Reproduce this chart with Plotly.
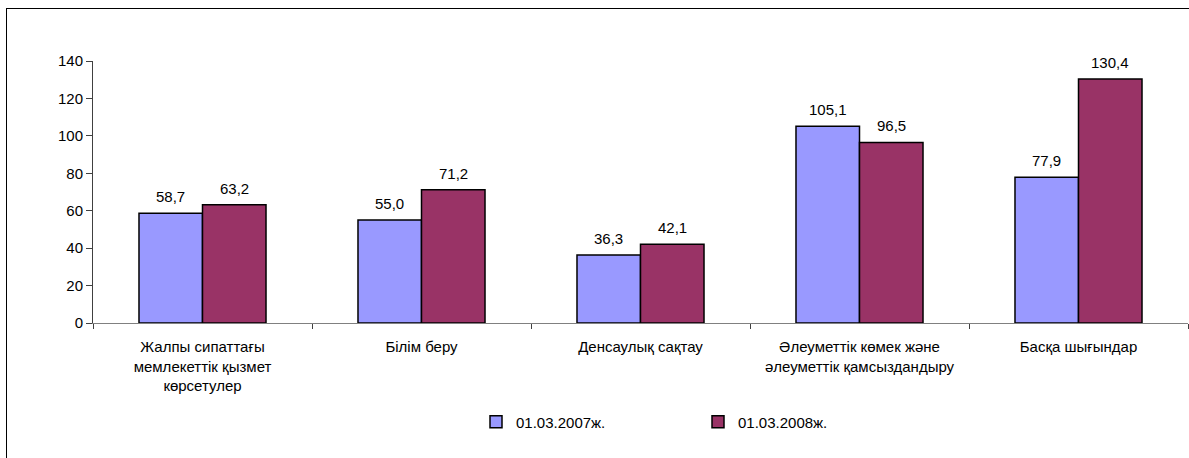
import plotly.graph_objects as go

categories = [
    "Жалпы сипаттағы<br>мемлекеттік қызмет<br>көрсетулер",
    "Білім беру",
    "Денсаулық сақтау",
    "Әлеуметтік көмек және<br>әлеуметтік қамсыздандыру",
    "Басқа шығындар",
]
series_names = ["01.03.2007ж.", "01.03.2008ж."]
values_2007 = [58.7, 55.0, 36.3, 105.1, 77.9]
values_2008 = [63.2, 71.2, 42.1, 96.5, 130.4]
colors = ["#9999FF", "#993366"]
y_ticks = [0, 20, 40, 60, 80, 100, 120, 140]

FONT = "Liberation Sans, Arial, sans-serif"
FS = 15

def fmt(v):
    return f"{v:.1f}".replace(".", ",")

W, H = 1189, 458
L, R, T, B = 93, 1, 61, 135
pw, ph = W - L - R, H - T - B
BARGAP = 0.42
bar_px = pw / len(categories) * (1 - BARGAP) / 2

def px_x(p):
    return (p - L) / pw

def px_y(p):
    return (H - B - p) / ph

fig = go.Figure()
annotations = []
for i, (name, vals, col) in enumerate(zip(series_names, [values_2007, values_2008], colors)):
    fig.add_trace(go.Bar(
        x=categories, y=vals, name=name,
        marker=dict(color=col, line=dict(color="black", width=1.5)),
        hoverinfo="x+y",
    ))
    shift = (i - 0.5) * bar_px
    for c, v in zip(categories, vals):
        annotations.append(dict(
            x=c, y=v, xref="x", yref="y", text=fmt(v), showarrow=False,
            xanchor="center", yanchor="bottom", xshift=shift, yshift=6,
            font=dict(family=FONT, size=FS, color="black"),
        ))

fig.update_layout(
    width=W, height=H,
    margin=dict(l=L, r=R, t=T, b=B),
    paper_bgcolor="white", plot_bgcolor="white",
    barmode="group", bargap=BARGAP, bargroupgap=0,
    font=dict(family=FONT, size=FS, color="black"),
    showlegend=True,
    legend=dict(
        orientation="h", x=px_x(698), y=px_y(422), xanchor="center", yanchor="middle",
        font=dict(family=FONT, size=FS, color="black"),
        entrywidth=177, entrywidthmode="pixels", itemwidth=30,
        itemclick=False,
    ),
    xaxis=dict(
        showline=True, linecolor="#808080", linewidth=1,
        ticks="outside", tickson="boundaries", ticklen=5, tickcolor="#404040",
        tickfont=dict(family=FONT, size=FS, color="black"),
        ticklabelstandoff=10,
        showgrid=False,
    ),
    yaxis=dict(
        range=[0, 140], tickvals=y_ticks,
        showline=True, linecolor="#404040", linewidth=1,
        ticks="outside", ticklen=6, tickcolor="#404040",
        tickfont=dict(family=FONT, size=FS, color="black"),
        showgrid=False, zeroline=False,
    ),
    annotations=annotations,
    shapes=[
        dict(type="line", xref="paper", yref="paper",
             x0=px_x(6), x1=px_x(W + 5), y0=px_y(8.5), y1=px_y(8.5),
             line=dict(color="black", width=1)),
        dict(type="line", xref="paper", yref="paper",
             x0=px_x(6.5), x1=px_x(6.5), y0=px_y(8.5), y1=px_y(H + 5),
             line=dict(color="black", width=1)),
    ],
)

fig.write_html(
    "out.html",
    config={"displayModeBar": False},
    post_script="document.body.style.margin='0';document.body.style.overflow='hidden';",
)
